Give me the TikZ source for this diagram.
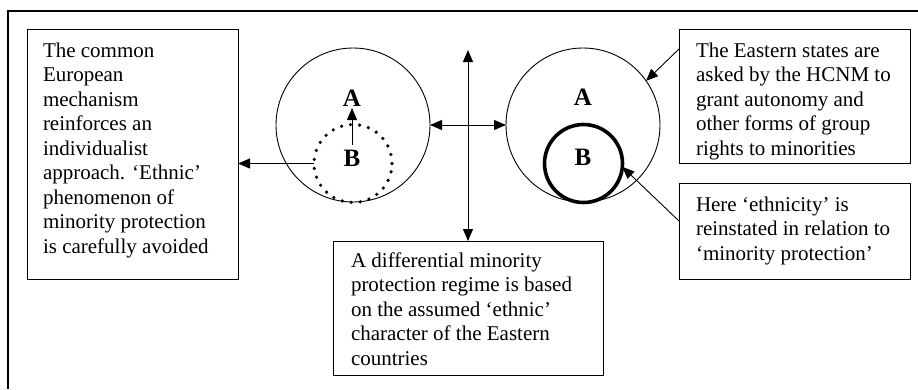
\documentclass[tikz,border=0pt]{standalone}
\usepackage{fontspec}
\setmainfont{Liberation Serif}
\usetikzlibrary{arrows.meta}
\newcommand{\mylines}[2]{\parbox[t]{#1}{\fontsize{21}{24.5}\selectfont\raggedright #2}}
\tikzset{
  box/.style={draw, line width=1pt, rectangle, inner sep=0pt, outer sep=0pt, anchor=north west},
  txt/.style={inner sep=0pt, outer sep=0pt, anchor=base west},
  ring/.style={draw, circle, line width=0.9pt, inner sep=0pt, outer sep=0pt},
  lbl/.style={inner sep=0pt, font=\fontsize{25}{25}\selectfont\bfseries, anchor=base},
  arr/.style={line width=0.9pt, -{Triangle[length=12pt,width=10pt]}},
  dbl/.style={line width=0.9pt, {Triangle[length=12pt,width=10pt]}-{Triangle[length=12pt,width=10pt]}}
}
\begin{document}
\begin{tikzpicture}[x=1pt,y=-1pt]
\useasboundingbox (0,0) rectangle (918,389);
% frame
\draw[line width=1.2pt] (8,389) -- (8,11) -- (918,11);
% boxes
\node[box, minimum width=211pt, minimum height=250pt] (L) at (27,29) {};
\node[box, minimum width=270pt, minimum height=134pt] (M) at (333,241) {};
\node[box, minimum width=231pt, minimum height=134pt] (TR) at (679,29) {};
\node[box, minimum width=231pt, minimum height=96pt] (BR) at (679,183) {};
% texts
\node[txt] (Lt) at (43,57) {\mylines{195pt}{The common\\European\\mechanism\\reinforces an\\individualist\\approach. ‘Ethnic’\\phenomenon of\\minority protection\\is carefully avoided}};
\node[txt] (Mt) at (351,267) {\mylines{250pt}{A differential minority\\protection regime is based\\on the assumed ‘ethnic’\\character of the Eastern\\countries}};
\node[txt] (TRt) at (696,57) {\mylines{210pt}{The Eastern states are\\asked by the HCNM to\\grant autonomy and\\other forms of group\\rights to minorities}};
\node[txt] (BRt) at (696,211) {\mylines{210pt}{Here ‘ethnicity’ is\\reinstated in relation to\\‘minority protection’}};
% circles
\node[ring, minimum size=154pt] (Lc) at (353,125) {};
\node[ring, minimum size=154pt] (Rc) at (583,125) {};
\node[circle, inner sep=0pt, outer sep=0pt, minimum size=78pt, draw, line width=3.6pt, dash pattern=on 0pt off 9.1pt, line cap=round] (Ld) at (353,163.5) {};
\node[circle, inner sep=0pt, outer sep=0pt, minimum size=78pt, draw, line width=3.6pt] (Rd) at (583.5,163.5) {};
% labels
\node[lbl] (LA) at (352,106) {A};
\node[lbl] (LB) at (352,166) {B};
\node[lbl] (RA) at (583,105) {A};
\node[lbl] (RB) at (583,165) {B};
% connectors
\coordinate (lb1) at (352,145);
\coordinate (la1) at (352,108);
\draw[arr] (lb1) -- (la1);
\draw[arr] (Ld.west) -- (Ld.west -| L.east);
\draw[dbl] (Lc.east) -- (Rc.west);
\coordinate (vt) at (468,50);
\draw[dbl] (vt) -- (M.north);
\coordinate (trs) at (679,49);
\draw[arr] (trs) -- (Rc.35);
\coordinate (brs) at (679,221);
\draw[arr] (brs) -- (Rd.-5);
\end{tikzpicture}
\end{document}
